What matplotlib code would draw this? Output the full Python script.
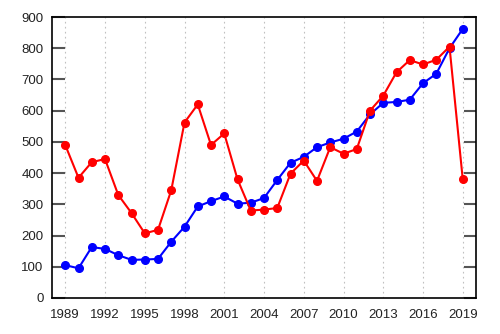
import numpy as np
import matplotlib
matplotlib.use('Agg')
from matplotlib import pyplot as plt

years = list(range(1989, 2020))
red = [490, 385, 435, 445, 330, 272, 207, 218, 345, 562, 620, 490, 527, 380, 280,
       283, 288, 398, 440, 375, 483, 462, 477, 600, 648, 723, 762, 748, 763, 805, 380]
blue = [105, 95, 163, 157, 137, 122, 123, 125, 180, 228, 293, 310, 325, 302, 305,
        320, 378, 433, 452, 483, 498, 510, 533, 588, 625, 628, 635, 688, 718, 800, 862]
x_ticks = list(range(1989, 2020, 3))
y_ticks = list(range(0, 901, 100))

plt.rcParams['font.family'] = ['Liberation Sans', 'DejaVu Sans']

fig = plt.figure(figsize=(5, 3.34), dpi=100)
ax = fig.add_axes([0.104, 0.108, 0.848, 0.841])

ax.plot(years, blue, color='#0000ff', lw=1.5, marker='o', ms=5.5, zorder=3)
ax.plot(years, red, color='#ff0000', lw=1.5, marker='o', ms=5.5, zorder=4)

ax.set_xlim(1988, 2020)
ax.set_ylim(0, 900)
ax.set_xticks(x_ticks)
ax.set_yticks(y_ticks)
ax.tick_params(axis='x', length=0, pad=8, labelsize=9.5, colors='#222222')
ax.tick_params(axis='y', direction='in', length=9, width=1.5, color='#555555',
               right=True, labelsize=9.5, labelcolor='#222222', pad=6)
ax.grid(axis='x', color='#c0c0c0', linestyle=(0, (1.5, 3)), lw=0.8)
for s in ax.spines.values():
    s.set_linewidth(1.2)
    s.set_color('black')

fig.savefig('out.png', dpi=100)
